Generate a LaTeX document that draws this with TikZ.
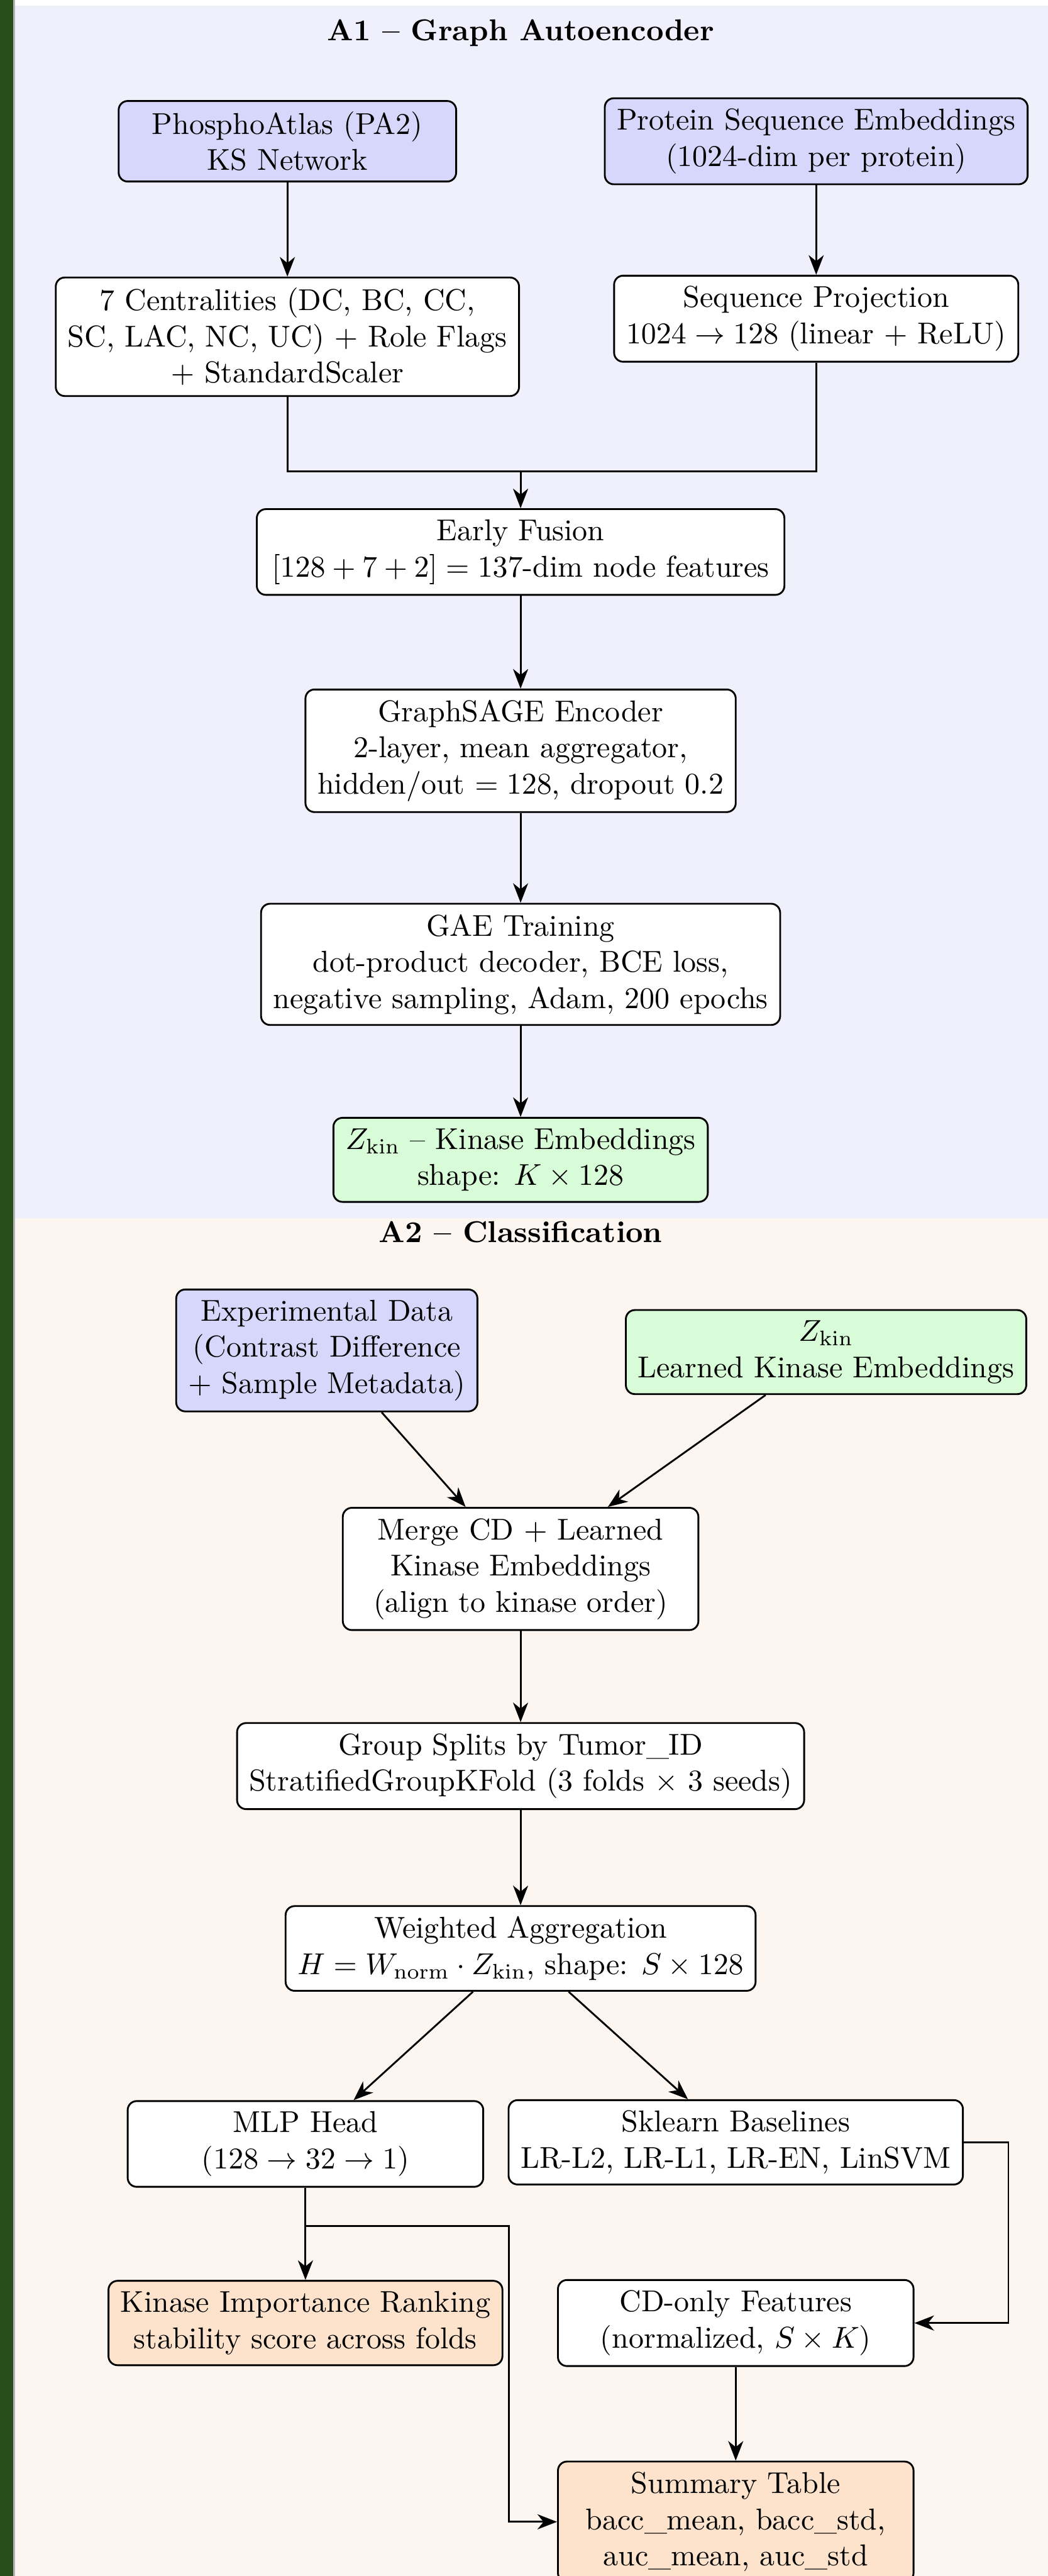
\documentclass[tikz,border=0pt]{standalone}
\usetikzlibrary{arrows.meta}
\definecolor{stripgreen}{HTML}{2A4E1A}
\definecolor{stripgrey}{HTML}{B4B4B4}
\definecolor{bgA}{HTML}{F0F0FC}
\definecolor{bgB}{HTML}{FDF6F0}
\definecolor{inblue}{HTML}{D6D7FA}
\definecolor{embgreen}{HTML}{D8FCD8}
\definecolor{outorange}{HTML}{FDE3CB}
\begin{document}
\begin{tikzpicture}[x=0.545pt, y=-0.545pt,
  box/.style={draw, rounded corners=3pt, align=center, fill=white, inner xsep=4pt, inner ysep=3.5pt, minimum width=118pt, line width=0.6pt},
  inbox/.style={box, fill=inblue},
  embbox/.style={box, fill=embgreen},
  outbox/.style={box, fill=outorange},
  arr/.style={-{Stealth[length=6.5pt, width=5pt, inset=2pt]}, line width=0.6pt},
  title/.style={font=\bfseries}]
\useasboundingbox (0,0) rectangle (638,1568);
\fill[stripgreen] (0,0) rectangle (8.2,1568);
\fill[stripgrey] (8.2,0) rectangle (9.1,1568);
\fill[bgA] (9.1,3.3) rectangle (638,741.5);
\fill[bgB] (9.1,741.5) rectangle (638,1568);
% A1
\node[title] (tA1) at (317,20) {A1 -- Graph Autoencoder};
\node[inbox, minimum width=112pt] (ksnet) at (175,86) {PhosphoAtlas (PA2)\\KS Network};
\node[inbox] (seqemb) at (497,86) {Protein Sequence Embeddings\\(1024-dim per protein)};
\node[box] (cent) at (175,205) {7 Centralities (DC, BC, CC,\\SC, LAC, NC, UC) $+$ Role Flags\\$+$ StandardScaler};
\node[box] (seqproj) at (497,194) {Sequence Projection\\$1024 \rightarrow 128$ (linear $+$ ReLU)};
\node[box, inner xsep=5pt] (fusion) at (317,336) {Early Fusion\\$[128+7+2]=137$-dim node features};
\node[box] (sage) at (317,457) {GraphSAGE Encoder\\2-layer, mean aggregator,\\hidden/out $=128$, dropout 0.2};
\node[box] (gae) at (317,587) {GAE Training\\dot-product decoder, BCE loss,\\negative sampling, Adam, 200 epochs};
\node[embbox] (zkin) at (317,706) {$Z_{\mathrm{kin}}$ -- Kinase Embeddings\\shape: $K \times 128$};
\coordinate (join) at (317,287);
\draw[arr] (ksnet) -- (cent);
\draw[arr] (seqemb) -- (seqproj);
\draw[line width=0.6pt] (cent) |- (join) -| (seqproj);
\draw[arr] (join) -- (fusion);
\draw[arr] (fusion) -- (sage);
\draw[arr] (sage) -- (gae);
\draw[arr] (gae) -- (zkin);
% A2
\node[title] (tA2) at (317,750) {A2 -- Classification};
\node[inbox, minimum width=97pt] (expdata) at (199,822) {Experimental Data\\(Contrast Difference\\$+$ Sample Metadata)};
\node[embbox] (zlearn) at (503,823) {$Z_{\mathrm{kin}}$\\Learned Kinase Embeddings};
\node[box] (merge) at (317,955) {Merge CD $+$ Learned\\Kinase Embeddings\\(align to kinase order)};
\node[box] (splits) at (317,1075) {Group Splits by Tumor\_ID\\StratifiedGroupKFold (3 folds $\times$ 3 seeds)};
\node[box] (wagg) at (317,1186) {Weighted Aggregation\\$H = W_{\mathrm{norm}} \cdot Z_{\mathrm{kin}}$, shape: $S \times 128$};
\node[box] (mlp) at (186,1305) {MLP Head\\($128 \rightarrow 32 \rightarrow 1$)};
\node[box] (sk) at (448,1304) {Sklearn Baselines\\LR-L2, LR-L1, LR-EN, LinSVM};
\node[outbox] (rank) at (186,1414) {Kinase Importance Ranking\\stability score across folds};
\node[box] (cdonly) at (448,1414) {CD-only Features\\(normalized, $S \times K$)};
\node[outbox] (summary) at (448,1535) {Summary Table\\bacc\_mean, bacc\_std,\\auc\_mean, auc\_std};
\coordinate (branch) at (186,1355);
\coordinate (turn) at (310,1535);
\coordinate (skturn) at (614,1304);
\draw[arr] (expdata) -- (merge);
\draw[arr] (zlearn) -- (merge);
\draw[arr] (merge) -- (splits);
\draw[arr] (splits) -- (wagg);
\draw[arr] (wagg) -- (mlp);
\draw[arr] (wagg) -- (sk);
\draw[arr] (mlp) -- (rank);
\draw[arr] (branch) -| (turn) -- (summary);
\draw[arr] (sk) -- (skturn) |- (cdonly);
\draw[arr] (cdonly) -- (summary);
\end{tikzpicture}
\end{document}
